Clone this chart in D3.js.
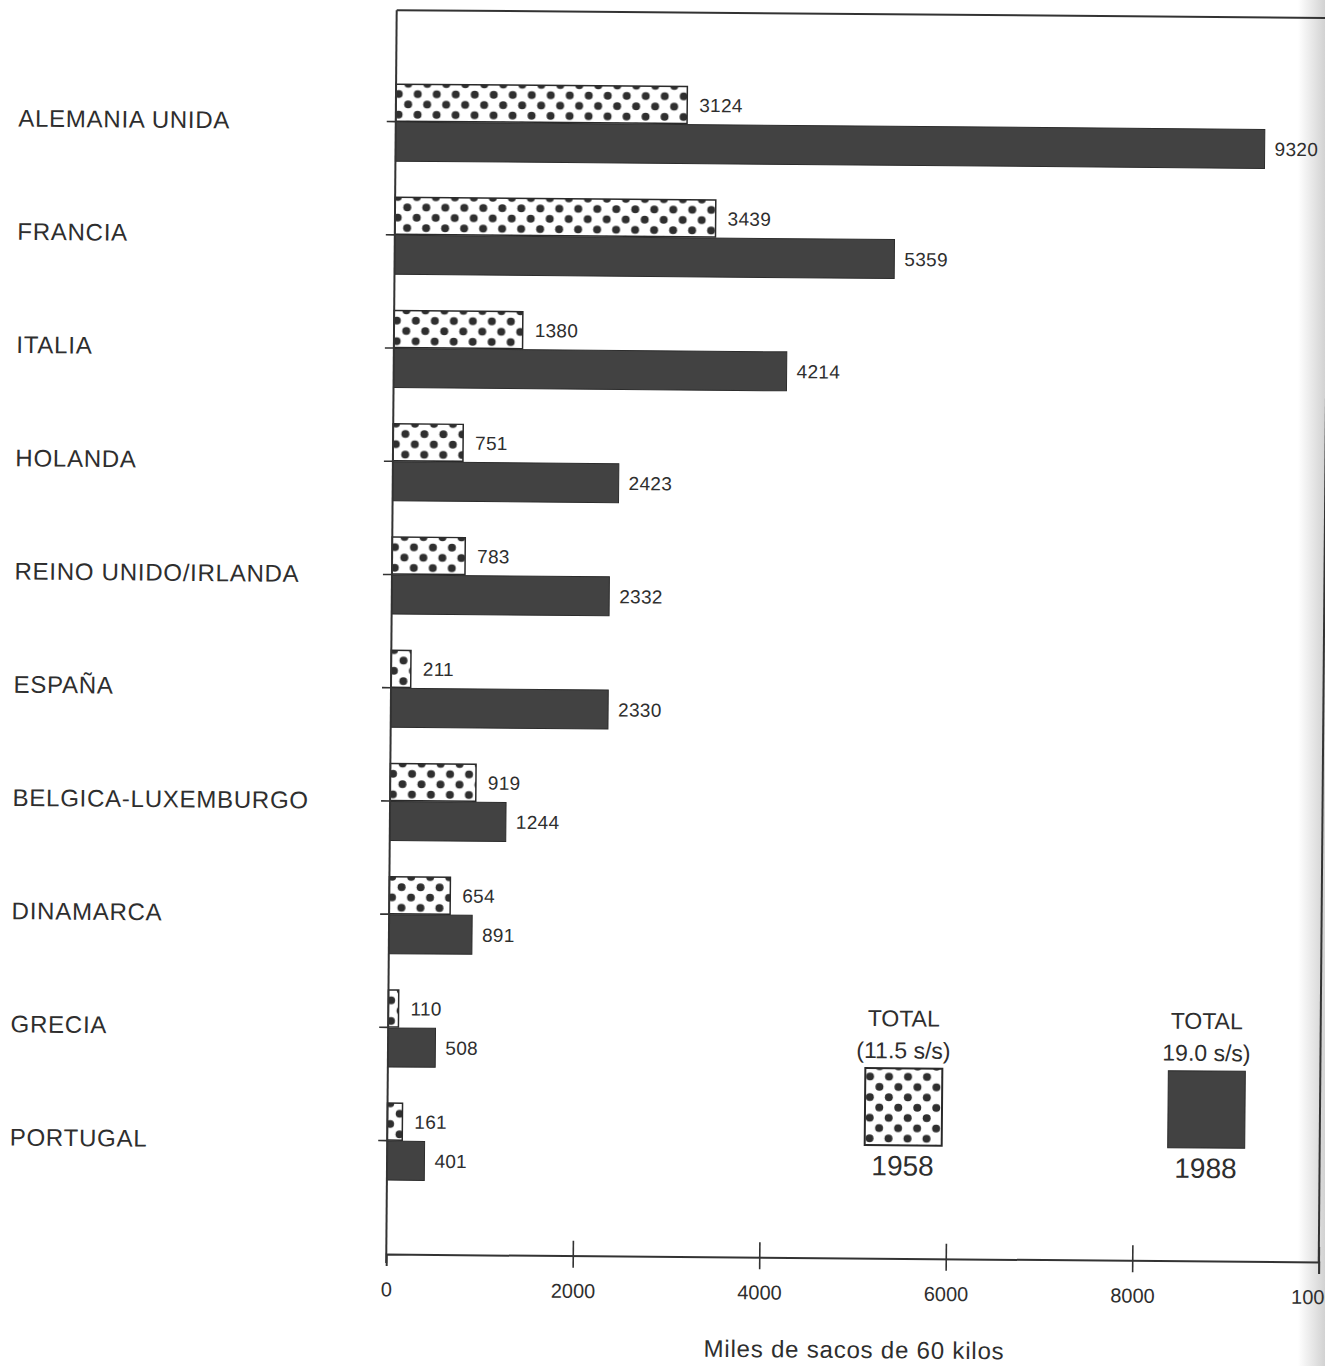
<!DOCTYPE html>
<html>
<head>
<meta charset="utf-8">
<script src="https://cdn.jsdelivr.net/npm/d3@7"></script>
<style>
  html, body { margin: 0; padding: 0; background: #fff; }
  svg { display: block; }
  text { font-family: "Liberation Sans", Arial, Helvetica, sans-serif; fill: #2e2e2e; }
</style>
</head>
<body>
<script>
// ---- data ----
const categories = ["ALEMANIA UNIDA", "FRANCIA", "ITALIA", "HOLANDA", "REINO UNIDO/IRLANDA",
                    "ESPAÑA", "BELGICA-LUXEMBURGO", "DINAMARCA", "GRECIA", "PORTUGAL"];
const values1958 = [3124, 3439, 1380, 751, 783, 211, 919, 654, 110, 161];
const values1988 = [9320, 5359, 4214, 2423, 2332, 2330, 1244, 891, 508, 401];
const xTicks = [0, 2000, 4000, 6000, 8000, 10000];
const xTitle = "Miles de sacos de 60 kilos";
const legendTitles = ["TOTAL", "TOTAL"];
const legendTotals = ["(11.5 s/s)", "19.0 s/s)"];
const legendYears = ["1958", "1988"];

// ---- setup ----
const W = 1325, H = 1366;
const ink = "#333";
const darkFill = "#424242";

const svg = d3.select("body").append("svg").attr("width", W).attr("height", H);
const defs = svg.append("defs");

// dotted pattern
const pat = defs.append("pattern")
  .attr("id", "dots").attr("patternUnits", "userSpaceOnUse")
  .attr("width", 19).attr("height", 20.6);
pat.append("rect").attr("width", 19).attr("height", 20.6).attr("fill", "#fff");
[[4.75, 5.15], [14.25, 15.45]].forEach(([cx, cy]) => {
  pat.append("circle").attr("cx", cx).attr("cy", cy).attr("r", 4).attr("fill", "#2f2f2f");
});

// scan edge shading at right border
const grad = defs.append("linearGradient").attr("id", "edge").attr("x1", 0).attr("x2", 1).attr("y1", 0).attr("y2", 0);
grad.append("stop").attr("offset", "0%").attr("stop-color", "#fff");
grad.append("stop").attr("offset", "60%").attr("stop-color", "#e4e4e4");
grad.append("stop").attr("offset", "100%").attr("stop-color", "#d2d2d2");
svg.append("rect").attr("x", 1298).attr("y", 0).attr("width", 27).attr("height", H).attr("fill", "url(#edge)");

// rotate slightly like the scanned page
const g = svg.append("g").attr("transform", "rotate(0.48, 855, 632)");

const x = d3.scaleLinear().domain([0, 10000]).range([391.5, 1324]);
const y = d3.scalePoint().domain(categories).range([125, 1144]);
const plotTop = 14, plotBottom = 1258;
const hTop = 37, hBot = 39;

// frame
g.append("line").attr("x1", x(0)).attr("x2", x(10000)).attr("y1", plotTop).attr("y2", plotTop)
  .attr("stroke", ink).attr("stroke-width", 2);
g.append("line").attr("x1", x(10000)).attr("x2", x(10000)).attr("y1", plotTop).attr("y2", plotBottom)
  .attr("stroke", ink).attr("stroke-width", 2);

// bars 1958 (dotted)
g.append("g").selectAll("rect").data(categories).join("rect")
  .attr("x", x(0)).attr("y", d => y(d) - hTop)
  .attr("width", (d, i) => x(values1958[i]) - x(0)).attr("height", hTop)
  .attr("fill", "url(#dots)").attr("stroke", "#2a2a2a").attr("stroke-width", 1.5);

// bars 1988 (dark)
g.append("g").selectAll("rect").data(categories).join("rect")
  .attr("x", x(0)).attr("y", d => y(d) + 1)
  .attr("width", (d, i) => x(values1988[i]) - x(0)).attr("height", hBot)
  .attr("fill", darkFill).attr("stroke", "#2c2c2c").attr("stroke-width", 1);

// value labels
g.append("g").selectAll("text").data(categories).join("text")
  .attr("x", (d, i) => x(values1958[i]) + 12).attr("y", d => y(d) - hTop / 2)
  .attr("dy", "0.36em").attr("font-size", 19).attr("letter-spacing", 0.3).text((d, i) => values1958[i]);
g.append("g").selectAll("text").data(categories).join("text")
  .attr("x", (d, i) => x(values1988[i]) + 10).attr("y", d => y(d) + 1 + hBot / 2)
  .attr("dy", "0.36em").attr("font-size", 19).attr("letter-spacing", 0.3).text((d, i) => values1988[i]);

// left axis
const yAxis = g.append("g").attr("transform", `translate(${x(0)},0)`)
  .call(d3.axisLeft(y).tickSize(9).tickFormat(""));
yAxis.select(".domain").remove();
yAxis.selectAll(".tick line").attr("stroke", ink).attr("stroke-width", 1.6);
g.append("line").attr("x1", x(0)).attr("x2", x(0)).attr("y1", plotTop).attr("y2", plotBottom + 9)
  .attr("stroke", ink).attr("stroke-width", 2);

// category labels
g.append("g").selectAll("text").data(categories).join("text")
  .attr("x", 14).attr("y", d => y(d)).attr("dy", "0.36em")
  .attr("font-size", 24).attr("letter-spacing", 0.75).text(d => d);

// bottom axis
const xAxis = g.append("g").attr("transform", `translate(0,${plotBottom})`)
  .call(d3.axisBottom(x).tickValues(xTicks).tickSize(12).tickPadding(16).tickFormat(d3.format("d")));
xAxis.select(".domain").attr("stroke", ink).attr("stroke-width", 2);
xAxis.selectAll(".tick line").attr("y1", -15).attr("y2", 12).attr("stroke", ink).attr("stroke-width", 1.6)
  .filter(d => d === 0).remove();
xAxis.selectAll(".tick text").attr("font-size", 20).attr("font-family", "Liberation Sans, Arial, sans-serif").attr("fill", "#2e2e2e");

g.append("text").attr("x", 860).attr("y", 1358).attr("text-anchor", "middle")
  .attr("font-size", 24).attr("letter-spacing", 0.8).text(xTitle);

// legend
const legendX = [907, 1210];
const legendFills = ["url(#dots)", darkFill];
const lg = g.append("g").selectAll("g").data(legendYears).join("g")
  .attr("transform", (d, i) => `translate(${legendX[i]},0)`);
lg.append("text").attr("y", 1026).attr("text-anchor", "middle").attr("font-size", 23)
  .text((d, i) => legendTitles[i]);
lg.append("text").attr("y", 1058).attr("text-anchor", "middle").attr("font-size", 23)
  .text((d, i) => legendTotals[i]);
lg.append("rect").attr("x", -38).attr("y", 1068).attr("width", 77).attr("height", 77)
  .attr("fill", (d, i) => legendFills[i]).attr("stroke", "#2a2a2a").attr("stroke-width", (d, i) => i === 0 ? 2 : 1);
lg.append("text").attr("y", 1175).attr("text-anchor", "middle").attr("font-size", 28)
  .text(d => d);
</script>
</body>
</html>
